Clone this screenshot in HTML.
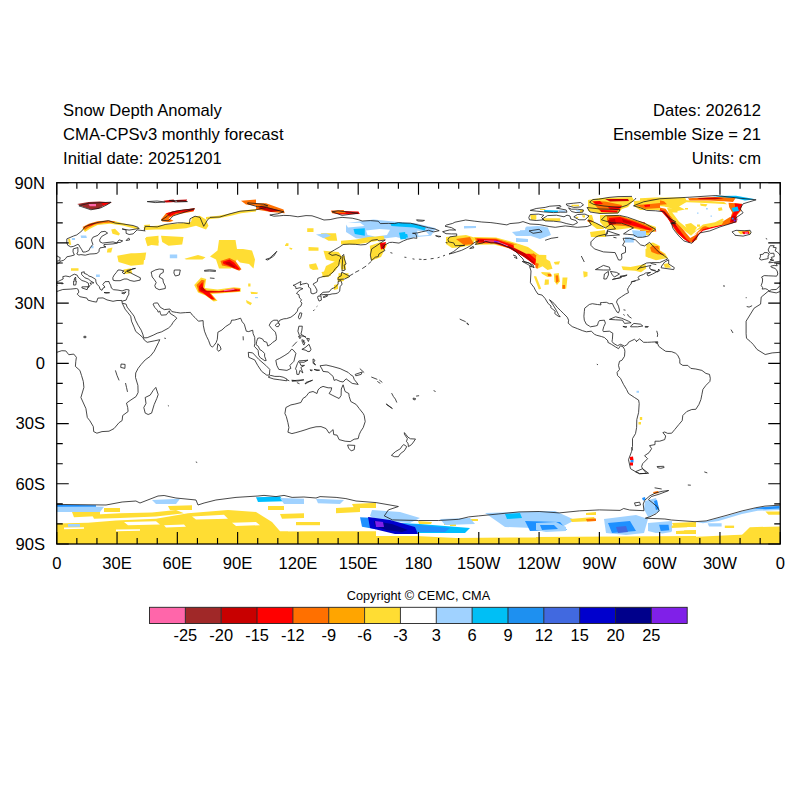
<!DOCTYPE html>
<html><head><meta charset="utf-8"><style>
html,body{margin:0;padding:0;background:#fff;width:800px;height:800px;overflow:hidden}
svg{display:block}
text{font-family:"Liberation Sans",sans-serif;fill:#000}
</style></head><body>
<svg width="800" height="800" viewBox="0 0 800 800">
<rect width="800" height="800" fill="#fff"/>
<g font-size="16.6">
<text x="63.1" y="116.3">Snow Depth Anomaly</text>
<text x="63.1" y="140.2">CMA-CPSv3 monthly forecast</text>
<text x="63.1" y="164.1">Initial date: 20251201</text>
<text x="761" y="116.3" text-anchor="end">Dates: 202612</text>
<text x="761" y="140.2" text-anchor="end">Ensemble Size = 21</text>
<text x="761" y="164.1" text-anchor="end">Units: cm</text>
</g>
<svg x="56.75" y="182.70" width="723.50" height="361.30" viewBox="0 0 723.50 361.30" overflow="hidden">
<g transform="translate(-56.75,-182.70)">
<path d="M56.0,523.6 88.0,522.8 116.0,520.4 156.0,518.8 188.0,513.2 228.0,510.0 256.0,512.0 272.0,522.0 280.0,531.2 376.0,531.2 376.0,545.2 56.0,545.2Z" fill="#FFDD33"/>
<path d="M64.0,527.6 84.0,527.2 84.0,528.8 64.0,529.2Z" fill="#FFFFFF"/>
<path d="M116.0,529.6 140.0,529.2 140.0,530.8 116.0,531.2Z" fill="#FFFFFF"/>
<path d="M288.0,526.8 376.0,526.0 376.0,530.4 288.0,531.2Z" fill="#FFFFFF"/>
<path d="M124.0,522.0 156.0,521.2 160.0,524.4 128.0,525.2Z" fill="#FFFFFF"/>
<path d="M192.0,516.4 224.0,514.8 228.0,518.8 196.0,519.6Z" fill="#FFFFFF"/>
<path d="M232.0,522.8 256.0,522.0 260.0,525.2 236.0,526.0Z" fill="#FFFFFF"/>
<path d="M164.0,525.2 184.0,524.4 186.0,526.8 166.0,527.6Z" fill="#FFFFFF"/>
<path d="M92.0,514.8 120.0,513.2 152.0,512.4 176.0,510.0 184.0,513.2 156.0,516.4 120.0,518.0 94.0,518.8Z" fill="#FFDD33"/>
<path d="M72.0,512.0 100.0,510.8 100.0,516.0 74.0,517.2Z" fill="#FFDD33"/>
<path d="M104.0,508.0 120.0,508.0 120.0,512.0 104.0,512.0Z" fill="#FFDD33"/>
<path d="M168.0,506.0 192.0,505.2 192.0,510.0 170.0,510.0Z" fill="#FFDD33"/>
<path d="M268.0,506.0 284.0,506.0 284.0,510.0 268.0,510.0Z" fill="#FFDD33"/>
<path d="M280.0,514.0 304.0,513.2 304.0,518.0 282.0,518.8Z" fill="#FFDD33"/>
<path d="M336.0,508.0 360.0,506.8 360.0,512.0 336.0,513.2Z" fill="#FFDD33"/>
<path d="M352.0,504.0 376.0,502.8 376.0,508.0 354.0,508.0Z" fill="#FFDD33"/>
<path d="M296.0,522.0 320.0,522.0 320.0,525.2 296.0,525.2Z" fill="#FFDD33"/>
<path d="M56.0,506.0 104.0,506.8 100.0,512.0 56.0,512.0Z" fill="#A0D2FF"/>
<path d="M152.0,500.0 180.0,498.8 176.0,504.0 156.0,504.0Z" fill="#A0D2FF"/>
<path d="M256.0,497.2 280.0,496.4 284.0,501.2 258.0,502.0Z" fill="#00BFFF"/>
<path d="M280.0,498.0 304.0,498.8 304.0,504.0 284.0,504.0Z" fill="#A0D2FF"/>
<path d="M316.0,498.8 344.0,500.0 340.0,504.0 318.0,503.2Z" fill="#A0D2FF"/>
<path d="M56.0,504.8 96.0,505.2 96.0,506.8 56.0,506.8Z" fill="#1E90FF"/>
<path d="M68.0,524.0 80.0,524.0 80.0,526.8 68.0,526.8Z" fill="#A0D2FF"/>
<path d="M360.0,517.2 376.0,518.0 376.0,529.2 362.0,526.8Z" fill="#1E90FF"/>
<path d="M370.0,522.8 376.0,522.0 376.0,527.6 371.2,526.8Z" fill="#00008B"/>
<path d="M376.0,536.0 416.0,536.0 456.0,538.0 536.0,537.4 536.0,545.0 376.0,545.0Z" fill="#FFDD33"/>
<path d="M418.0,521.0 432.0,522.0 431.0,524.0 419.0,524.0Z" fill="#FFDD33"/>
<path d="M444.0,523.0 456.0,522.6 456.0,525.0 444.0,525.0Z" fill="#FFDD33"/>
<path d="M372.0,510.0 400.0,512.0 420.0,518.0 410.0,523.0 380.0,521.0 370.0,516.0Z" fill="#A0D2FF"/>
<path d="M380.0,522.0 420.0,524.0 470.0,528.0 465.0,533.0 420.0,533.0 385.0,530.0Z" fill="#00BFFF"/>
<path d="M375.0,520.0 410.0,524.0 450.0,528.0 445.0,532.0 405.0,532.0 378.0,527.0Z" fill="#1E90FF"/>
<path d="M368.0,517.0 390.0,520.0 415.0,527.0 418.0,534.0 395.0,534.0 370.0,528.0Z" fill="#0000CD"/>
<path d="M374.0,521.0 392.0,524.0 408.0,530.0 402.0,532.0 386.0,530.0 375.0,526.0Z" fill="#00008B"/>
<path d="M375.0,521.0 383.0,522.0 384.0,527.0 376.0,527.0Z" fill="#8020E8"/>
<path d="M485.0,513.0 555.0,511.0 575.0,520.0 558.0,529.0 505.0,527.0Z" fill="#A0D2FF"/>
<path d="M525.0,521.0 560.0,522.0 567.0,530.0 530.0,531.0Z" fill="#1E90FF"/>
<path d="M450.0,523.0 456.0,523.0 456.0,526.0 450.0,526.0Z" fill="#FFDD33"/>
<path d="M470.0,519.0 478.0,519.0 478.0,521.0 470.0,521.0Z" fill="#FFDD33"/>
<path d="M440.0,519.0 470.0,518.0 475.0,524.0 445.0,525.0Z" fill="#A0D2FF"/>
<path d="M505.0,514.0 520.0,513.0 522.0,518.0 507.0,519.0Z" fill="#00BFFF"/>
<path d="M536.0,537.0 696.0,536.0 696.0,545.0 536.0,545.0Z" fill="#FFDD33"/>
<path d="M536.0,523.0 556.0,522.0 566.0,527.0 566.0,531.0 546.0,532.0 536.0,530.0Z" fill="#A0D2FF"/>
<path d="M540.0,525.0 554.0,525.0 558.0,529.0 542.0,530.0Z" fill="#1E90FF"/>
<path d="M604.0,519.0 636.0,515.0 648.0,519.0 644.0,533.0 626.0,535.0 606.0,533.0Z" fill="#A0D2FF"/>
<path d="M608.0,523.0 630.0,521.0 636.0,531.0 612.0,533.0Z" fill="#1E90FF"/>
<path d="M616.0,527.0 626.0,526.0 628.0,532.0 618.0,533.0Z" fill="#4169E0"/>
<path d="M648.0,523.0 672.0,521.0 672.0,531.0 656.0,533.0 648.0,531.0Z" fill="#A0D2FF"/>
<path d="M645.0,501.0 656.0,498.0 660.0,511.0 648.0,517.0 644.0,509.0Z" fill="#A0D2FF"/>
<path d="M654.0,501.0 657.0,500.0 659.0,509.0 656.0,510.0Z" fill="#1E90FF"/>
<path d="M570.0,519.0 594.0,517.0 596.0,521.0 572.0,522.0Z" fill="#FFDD33"/>
<path d="M586.0,519.0 596.0,518.6 596.0,521.0 587.0,521.4Z" fill="#FF7000"/>
<path d="M586.0,513.0 596.0,512.0 596.0,515.0 586.0,515.0Z" fill="#FFDD33"/>
<path d="M672.0,523.0 696.0,522.0 696.0,527.0 674.0,527.0Z" fill="#FFDD33"/>
<path d="M676.0,531.0 696.0,530.0 696.0,534.0 676.0,534.0Z" fill="#FFDD33"/>
<path d="M653.0,492.0 658.0,491.0 659.0,493.0 654.0,494.0Z" fill="#FF7000"/>
<path d="M642.0,498.0 645.0,497.0 645.6,500.0 643.0,500.6Z" fill="#1E90FF"/>
<path d="M656.0,538.1 702.9,536.6 734.1,535.0 781.0,533.4 781.0,545.0 656.0,545.0Z" fill="#FFDD33"/>
<path d="M695.1,521.7 706.0,521.2 726.3,516.2 741.9,511.6 757.6,507.7 781.0,505.3 781.0,510.0 757.6,510.8 741.9,513.9 718.5,520.9 702.9,523.3Z" fill="#A0D2FF"/>
<path d="M752.9,508.4 765.4,506.9 779.4,506.1 779.4,508.4 765.4,509.2Z" fill="#1E90FF"/>
<path d="M656.0,524.1 670.1,522.5 671.6,531.9 662.2,533.4 656.0,531.9Z" fill="#A0D2FF"/>
<path d="M659.1,524.8 668.5,524.8 669.3,530.3 660.7,531.1Z" fill="#1E90FF"/>
<path d="M707.6,523.3 721.6,523.3 721.6,526.4 709.1,526.4Z" fill="#A0D2FF"/>
<path d="M671.6,525.6 687.2,524.8 687.2,527.2 671.6,528.0Z" fill="#FFDD33"/>
<path d="M684.1,530.3 695.1,530.3 695.1,533.4 684.1,533.4Z" fill="#FFDD33"/>
<path d="M724.8,525.6 734.1,525.6 734.1,528.0 724.8,528.0Z" fill="#FFDD33"/>
<path d="M749.8,527.2 781.0,526.4 781.0,536.6 741.9,535.0Z" fill="#FFDD33"/>
<path d="M765.4,511.6 781.0,511.6 781.0,514.7 768.5,514.7Z" fill="#FFDD33"/>
<path d="M640.0,198.2 655.0,197.5 685.0,197.5 686.5,200.5 677.5,202.7 677.5,208.0 670.0,208.0 664.0,206.5 655.0,205.7 646.0,208.0 640.0,208.0Z" fill="#FFDD33"/>
<path d="M643.0,200.5 653.5,199.0 664.0,201.2 667.0,204.2 658.0,205.0 649.0,206.5 643.0,205.0Z" fill="#FF7000"/>
<path d="M640.0,206.5 644.5,205.7 646.0,208.7 640.0,209.5Z" fill="#C80000"/>
<path d="M670.0,203.5 677.5,204.2 676.7,206.5 670.7,205.7Z" fill="#FFDD33"/>
<path d="M655.7,206.8 665.5,208.7 673.3,219.2 680.5,226.0 685.7,232.7 690.2,238.0 695.5,235.0 698.5,232.0 697.0,239.5 691.7,242.8 683.5,238.7 676.7,232.7 671.5,224.5 664.7,212.5 656.5,209.5Z" fill="#FF7000"/>
<path d="M667.0,208.0 677.5,208.7 677.5,212.5 672.2,212.5 679.0,221.5 686.5,227.5 692.5,231.2 697.0,230.2 691.0,235.7 684.2,230.5 677.5,223.7 670.0,215.5Z" fill="#FFDD33"/>
<path d="M658.7,208.7 664.7,211.0 671.8,220.0 677.2,226.7 681.7,232.7 686.5,238.7 690.7,242.2 689.2,242.8 684.2,239.2 678.2,233.5 673.3,226.7 667.7,218.5 661.0,211.0Z" fill="#FF0000"/>
<path d="M664.7,212.2 669.2,216.2 674.8,223.7 677.5,227.5 674.5,226.0 669.2,220.0 665.5,214.7Z" fill="#C80000"/>
<path d="M695.5,230.5 703.0,224.5 715.0,222.2 722.5,218.5 724.0,220.0 715.0,224.5 703.0,228.2Z" fill="#FFDD33"/>
<path d="M694.0,235.0 703.0,226.7 715.0,223.7 724.0,220.7 730.0,217.0 733.0,217.7 725.5,223.7 712.0,226.7 700.0,231.2Z" fill="#FF7000"/>
<path d="M691.7,241.0 697.0,235.0 703.0,229.3 712.0,226.7 724.0,223.7 736.0,219.2 736.7,222.2 724.0,225.2 712.0,228.2 703.0,230.8 698.5,235.0 693.2,242.5Z" fill="#FF0000"/>
<path d="M728.5,202.7 742.0,203.8 740.8,211.0 736.7,215.5 736.3,220.7 724.0,225.5 720.2,224.2 730.0,219.2 732.2,212.5 729.2,207.2Z" fill="#FF7000"/>
<path d="M734.5,203.2 742.3,204.2 740.2,210.2 736.7,214.7 735.7,220.7 729.7,222.7 731.2,217.3 734.2,211.0 735.2,206.5Z" fill="#FF0000"/>
<path d="M731.2,216.7 735.4,215.8 736.0,220.9 731.8,221.8Z" fill="#C80000"/>
<path d="M731.8,217.7 733.6,217.7 733.6,219.4 731.8,219.4Z" fill="#1E90FF"/>
<path d="M733.7,219.7 736.0,219.7 736.0,221.5 733.7,221.5Z" fill="#8020E8"/>
<path d="M736.0,218.5 737.8,218.5 737.8,220.3 736.0,220.3Z" fill="#FF66AA"/>
<path d="M731.5,208.0 737.5,206.5 739.0,211.0 733.0,211.7Z" fill="#00BFFF"/>
<path d="M677.5,199.0 689.5,200.5 707.5,200.8 724.0,202.0 727.0,204.2 715.0,203.5 700.0,202.7 682.0,202.0Z" fill="#FFDD33"/>
<path d="M688.0,198.2 707.5,197.2 724.0,196.7 736.0,197.5 733.0,202.0 724.0,201.2 707.5,200.5 689.5,200.5Z" fill="#FF7000"/>
<path d="M697.0,198.2 715.0,197.5 724.0,198.2 715.0,199.3 700.0,199.3Z" fill="#C80000"/>
<path d="M712.0,196.0 736.0,195.7 755.5,199.3 745.0,200.5 736.0,198.2 722.5,197.2Z" fill="#00BFFF"/>
<path d="M697.0,224.5 700.0,224.5 700.0,226.7 697.0,226.7Z" fill="#FFDD33"/>
<path d="M703.0,204.2 706.0,204.2 706.0,205.7 703.0,205.7Z" fill="#FFDD33"/>
<path d="M685.0,208.0 688.0,208.0 688.0,209.5 685.0,209.5Z" fill="#FFDD33"/>
<path d="M737.5,231.2 749.5,230.5 751.0,233.5 740.5,234.2Z" fill="#FFDD33"/>
<path d="M742.0,231.7 748.7,231.2 749.5,233.8 743.5,234.2Z" fill="#FF0000"/>
<path d="M744.7,232.3 748.0,232.3 748.0,233.8 745.0,233.9Z" fill="#FF66AA"/>
<path d="M640.0,221.5 644.5,222.2 649.0,226.7 655.0,229.0 656.5,231.2 652.0,232.0 646.0,229.0 640.0,227.5Z" fill="#FF0000"/>
<path d="M640.0,226.7 646.0,229.0 652.0,232.0 646.0,233.5 640.0,232.7Z" fill="#FF7000"/>
<path d="M643.0,232.0 649.0,232.7 650.5,235.0 644.5,235.0Z" fill="#FFDD33"/>
<path d="M650.5,245.5 654.2,244.0 656.5,250.0 651.2,250.0Z" fill="#FF7000"/>
<path d="M525.3,227.6 537.5,225.9 548.0,227.6 548.0,235.5 537.5,235.9 525.3,233.8Z" fill="#A0D2FF"/>
<path d="M520.0,230.3 525.3,230.3 525.3,233.8 520.0,233.8Z" fill="#A0D2FF"/>
<path d="M632.0,230.3 646.0,231.1 646.0,237.3 633.8,236.9Z" fill="#A0D2FF"/>
<path d="M625.0,237.3 633.8,237.6 633.8,242.5 625.0,242.5Z" fill="#A0D2FF"/>
<path d="M646.0,244.3 653.0,242.5 660.0,246.0 660.0,258.3 647.8,257.4Z" fill="#FFDD33"/>
<path d="M651.3,246.0 658.3,246.0 660.0,252.1 653.0,252.1Z" fill="#FF7000"/>
<path d="M535.8,254.8 546.3,255.1 546.3,260.0 535.8,260.0Z" fill="#FFDD33"/>
<path d="M446.0,237.0 466.0,235.0 476.0,238.0 472.0,245.0 462.0,247.0 452.0,248.0 446.0,244.0Z" fill="#FFDD33"/>
<path d="M456.0,239.0 470.0,237.0 474.0,244.0 464.0,245.0Z" fill="#FF7000"/>
<path d="M474.0,237.0 496.0,237.6 514.0,242.4 528.0,247.0 540.0,255.6 545.0,265.0 538.0,267.2 527.0,258.4 511.0,248.8 494.0,244.4 476.0,244.8Z" fill="#FFDD33"/>
<path d="M475.0,238.0 496.0,238.4 513.0,243.6 527.0,248.4 538.4,257.0 542.4,265.0 537.0,266.0 527.6,258.4 511.6,248.4 494.0,243.6 477.0,243.6Z" fill="#FF7000"/>
<path d="M477.0,238.8 496.0,239.6 511.6,244.8 525.6,250.4 536.0,259.6 538.4,264.8 534.4,265.0 525.2,257.2 509.6,248.4 493.6,242.8 478.4,242.4Z" fill="#FF0000"/>
<path d="M480.0,240.0 496.0,241.0 510.0,246.4 524.0,252.8 534.4,262.6 533.2,263.4 522.4,256.0 508.0,247.6 493.6,242.0 480.4,241.4Z" fill="#C80000"/>
<path d="M484.0,240.2 496.0,240.8 508.0,245.6 507.6,246.4 496.0,241.8 484.0,241.2Z" fill="#FF66AA"/>
<path d="M494.0,240.8 499.6,241.4 499.6,242.6 494.0,242.2Z" fill="#8020E8"/>
<path d="M464.0,226.0 476.0,226.0 476.0,228.0 464.0,228.4Z" fill="#A0D2FF"/>
<path d="M512.0,232.0 528.0,230.0 530.0,236.0 516.0,236.0Z" fill="#A0D2FF"/>
<path d="M528.0,228.0 548.0,228.0 551.0,235.0 540.0,239.0 528.0,235.0Z" fill="#A0D2FF"/>
<path d="M516.0,238.0 528.0,239.0 528.0,242.0 516.0,242.0Z" fill="#A0D2FF"/>
<path d="M256.0,203.2 266.0,203.2 283.5,209.5 284.8,213.2 271.0,212.0 256.0,209.5Z" fill="#FF7000"/>
<path d="M261.0,205.8 281.0,210.8 271.0,212.0 258.5,208.2Z" fill="#C80000"/>
<path d="M331.0,210.8 358.5,211.5 359.8,214.0 341.0,214.5 333.5,213.2Z" fill="#FF0000"/>
<path d="M331.0,210.8 343.5,210.0 346.0,213.2 332.2,213.2Z" fill="#FF7000"/>
<path d="M307.2,228.2 313.5,228.2 313.5,232.0 307.2,232.0Z" fill="#FFDD33"/>
<path d="M321.0,233.2 336.0,233.2 337.2,240.8 328.5,240.8 322.2,237.0Z" fill="#FFDD33"/>
<path d="M308.5,247.0 318.5,247.5 318.5,250.8 308.5,250.8Z" fill="#FFDD33"/>
<path d="M286.0,243.2 288.5,243.2 288.5,245.8 286.0,245.8Z" fill="#FFDD33"/>
<path d="M323.5,250.8 338.5,252.0 342.2,257.0 336.0,262.0 326.0,259.5Z" fill="#FFDD33"/>
<path d="M309.0,264.5 316.0,263.2 318.5,269.5 313.0,270.0 309.8,268.2Z" fill="#FFDD33"/>
<path d="M321.5,272.0 328.5,270.8 331.0,275.8 323.5,277.5Z" fill="#FFDD33"/>
<path d="M346.0,223.2 373.5,219.5 398.5,222.0 416.0,223.2 436.0,228.2 431.0,235.8 416.0,237.0 406.0,239.5 396.0,237.0 386.0,238.2 371.0,239.5 356.0,238.2 346.0,232.0Z" fill="#A0D2FF"/>
<path d="M353.5,229.0 364.8,228.2 364.8,235.8 354.8,234.0Z" fill="#00BFFF"/>
<path d="M402.2,234.0 407.2,234.0 408.0,237.5 404.0,237.5Z" fill="#00BFFF"/>
<path d="M316.0,234.5 326.0,233.2 331.0,235.8 323.5,238.2Z" fill="#A0D2FF"/>
<path d="M341.0,240.8 356.0,239.5 368.5,237.0 383.5,235.8 384.8,239.5 371.0,242.0 356.0,244.5 341.0,244.5Z" fill="#FFDD33"/>
<path d="M369.8,245.8 381.0,242.0 387.2,244.5 381.0,257.0 371.0,260.8Z" fill="#FFDD33"/>
<path d="M379.8,243.2 386.0,242.0 384.8,248.2 381.0,249.5Z" fill="#FF0000"/>
<path d="M381.0,244.5 384.8,244.0 384.0,247.5 381.8,248.2Z" fill="#C80000"/>
<path d="M339.8,257.0 344.8,255.8 346.0,269.5 341.0,269.5Z" fill="#FFDD33"/>
<path d="M338.5,273.2 348.5,273.2 348.5,278.2 338.5,278.2Z" fill="#FFDD33"/>
<path d="M77.2,204.0 88.5,202.0 99.8,201.5 112.2,202.5 103.5,205.8 98.5,209.0 91.0,209.5 83.5,207.0Z" fill="#A02828"/>
<path d="M101.0,202.5 111.0,202.5 103.5,205.8Z" fill="#FF0000"/>
<path d="M88.5,204.0 96.0,204.0 96.0,206.2 89.8,206.2Z" fill="#FF66AA"/>
<path d="M163.5,200.8 173.5,199.5 176.0,202.0 166.0,202.5Z" fill="#C80000"/>
<path d="M176.0,200.0 187.2,199.5 186.0,201.5 177.2,202.0Z" fill="#C80000"/>
<path d="M161.0,219.5 166.0,213.2 176.0,210.8 194.8,208.2 193.5,211.5 176.0,214.5 168.5,218.2 173.5,220.8 169.8,222.0 162.2,221.5Z" fill="#FF7000"/>
<path d="M166.0,213.2 176.0,210.8 194.8,208.2 193.5,210.8 176.0,213.2 169.8,216.5Z" fill="#FF0000"/>
<path d="M91.0,245.8 93.5,245.8 93.5,248.2 91.0,248.2Z" fill="#A0D2FF"/>
<path d="M143.5,227.0 156.0,225.8 168.5,224.5 181.0,223.2 191.0,222.0 192.2,217.0 199.8,215.8 206.0,219.5 208.5,225.8 206.0,229.5 196.0,225.8 186.0,228.2 171.0,229.5 156.0,229.5 144.8,230.0Z" fill="#FFDD33"/>
<path d="M206.0,217.0 218.5,215.8 231.0,213.2 241.0,210.8 256.0,209.0 256.0,211.5 241.0,213.2 231.0,215.8 218.5,218.2 206.0,219.5Z" fill="#FFDD33"/>
<path d="M241.0,200.8 256.0,199.5 256.0,205.8 246.0,204.5Z" fill="#FF7000"/>
<path d="M146.0,237.0 158.5,235.8 158.5,245.8 147.2,244.5Z" fill="#FFDD33"/>
<path d="M161.0,235.8 183.5,237.0 182.2,244.5 168.5,245.8 162.2,242.0Z" fill="#FFDD33"/>
<path d="M71.0,268.2 78.5,268.2 78.5,270.8 71.0,270.8Z" fill="#FFDD33"/>
<path d="M117.2,255.8 131.0,253.2 144.8,253.2 143.5,264.5 131.0,265.8 118.5,262.0Z" fill="#FFDD33"/>
<path d="M123.5,269.5 131.0,268.2 132.2,273.2 124.8,274.0Z" fill="#FFDD33"/>
<path d="M96.0,274.5 99.8,274.5 99.8,277.0 96.0,277.0Z" fill="#A0D2FF"/>
<path d="M169.8,254.5 177.2,254.5 177.2,258.2 169.8,258.2Z" fill="#A0D2FF"/>
<path d="M513.8,244.4 521.2,245.0 533.8,251.9 533.1,253.8 526.2,253.8 518.8,250.0 513.8,247.5Z" fill="#FFDD33"/>
<path d="M536.2,255.6 542.5,256.9 550.0,261.2 552.5,268.8 547.5,270.0 542.5,266.2 537.5,268.8 535.6,263.8Z" fill="#FFDD33"/>
<path d="M541.2,271.9 550.0,272.5 552.5,276.2 547.5,276.9 541.9,273.8Z" fill="#FFDD33"/>
<path d="M547.5,273.8 551.2,274.0 551.2,276.5 548.1,276.2Z" fill="#FF7000"/>
<path d="M553.8,273.8 558.8,273.1 560.0,281.2 556.9,285.0 554.4,281.2Z" fill="#FFDD33"/>
<path d="M555.6,275.6 558.1,275.2 558.8,281.2 556.2,283.1Z" fill="#FF7000"/>
<path d="M562.5,277.5 567.5,277.5 566.2,288.8 561.9,288.8Z" fill="#FFDD33"/>
<path d="M562.5,285.0 565.0,285.0 565.0,288.8 562.5,288.8Z" fill="#FF7000"/>
<path d="M533.8,276.2 536.2,276.2 541.2,288.8 538.8,289.4Z" fill="#FFDD33"/>
<path d="M545.0,279.4 548.8,279.4 548.8,284.4 544.4,285.0Z" fill="#FFDD33"/>
<path d="M553.8,261.9 560.0,261.2 558.8,264.4 555.0,264.4Z" fill="#FFDD33"/>
<path d="M583.1,271.2 587.5,271.9 587.5,276.2 583.8,277.5Z" fill="#FFDD33"/>
<path d="M535.0,262.5 538.8,263.8 537.5,268.8 535.6,268.1Z" fill="#FF7000"/>
<path d="M621.5,266.2 630.5,267.0 638.0,265.5 645.5,264.0 646.2,268.5 641.0,272.2 635.0,270.7 623.0,270.0Z" fill="#FFDD33"/>
<path d="M645.5,249.0 653.0,246.0 665.0,253.5 668.0,258.0 656.0,260.2 645.5,256.5Z" fill="#FFDD33"/>
<path d="M650.0,247.5 653.7,245.2 659.0,250.5 665.0,255.0 657.5,254.2 651.5,252.0Z" fill="#FF7000"/>
<path d="M663.5,264.0 668.0,263.2 671.0,267.7 665.0,267.7Z" fill="#FFDD33"/>
<path d="M629.8,457.0 633.0,456.5 633.5,460.0 630.0,460.0Z" fill="#FF0000"/>
<path d="M630.5,460.0 633.5,460.0 633.5,462.5 630.5,462.5Z" fill="#1E90FF"/>
<path d="M630.0,462.5 633.0,462.5 633.0,465.5 630.0,465.5Z" fill="#FF0000"/>
<path d="M639.8,417.0 642.2,417.0 642.2,420.0 639.8,420.0Z" fill="#FFDD33"/>
<path d="M638.5,422.0 641.0,422.0 641.0,424.5 638.5,424.5Z" fill="#FFDD33"/>
<path d="M636.5,390.8 639.0,390.8 639.0,392.8 636.5,392.8Z" fill="#A0D2FF"/>
<path d="M540.0,208.9 545.3,208.9 545.3,210.0 540.0,210.0Z" fill="#FFDD33"/>
<path d="M543.8,210.0 558.0,210.4 558.0,212.3 544.5,211.9Z" fill="#00BFFF"/>
<path d="M558.0,210.0 565.5,210.4 565.5,212.3 558.8,212.1Z" fill="#A0D2FF"/>
<path d="M571.5,204.8 579.0,204.8 579.0,206.3 571.5,206.3Z" fill="#FFDD33"/>
<path d="M576.0,210.0 582.0,210.4 582.0,211.9 576.8,211.5Z" fill="#A0D2FF"/>
<path d="M530.3,214.9 536.3,214.9 536.3,219.8 531.0,219.8Z" fill="#FFDD33"/>
<path d="M543.0,218.3 560.3,218.3 560.3,220.9 543.8,220.9Z" fill="#FFDD33"/>
<path d="M576.0,216.8 578.3,216.8 578.3,218.3 576.0,218.3Z" fill="#FFDD33"/>
<path d="M582.0,215.3 585.0,215.3 585.0,217.5 582.8,217.5Z" fill="#FFDD33"/>
<path d="M526.5,226.5 543.8,226.5 549.8,232.5 549.8,235.0 525.0,235.0 525.0,230.3Z" fill="#A0D2FF"/>
<path d="M588.0,200.0 600.0,198.0 632.0,197.0 634.0,200.0 628.0,207.0 622.0,209.0 618.0,213.5 600.0,213.5 588.0,211.0Z" fill="#FFDD33"/>
<path d="M592.0,201.0 605.0,201.5 622.0,205.0 620.0,210.0 600.0,211.0 595.0,205.0Z" fill="#FF7000"/>
<path d="M593.0,201.5 600.0,201.0 603.0,204.0 596.0,204.5Z" fill="#FF0000"/>
<path d="M605.0,199.0 628.0,199.0 629.0,201.0 610.0,201.5Z" fill="#C80000"/>
<path d="M608.0,207.0 622.0,206.0 618.0,210.0 610.0,209.5Z" fill="#FF0000"/>
<path d="M600.0,210.0 618.0,210.5 617.0,212.5 601.0,212.0Z" fill="#FF0000"/>
<path d="M634.0,201.0 660.0,199.0 660.0,210.0 640.0,210.0 634.0,206.0Z" fill="#FFDD33"/>
<path d="M636.0,205.0 650.0,204.0 660.0,203.0 660.0,208.0 645.0,209.0Z" fill="#FF7000"/>
<path d="M644.0,205.0 650.0,204.5 650.0,206.5 645.0,207.0Z" fill="#FF0000"/>
<path d="M600.0,215.0 618.0,215.0 636.0,220.0 656.0,227.0 655.0,232.0 640.0,230.0 630.0,228.0 615.0,230.0 606.0,229.0 600.0,222.0Z" fill="#FFDD33"/>
<path d="M607.0,216.0 620.0,216.0 636.0,221.0 654.0,228.0 652.0,231.0 640.0,229.0 625.0,226.0 610.0,225.0 607.0,221.0Z" fill="#FF7000"/>
<path d="M609.0,218.0 620.0,217.0 635.0,222.0 652.0,229.0 650.0,230.5 638.0,227.0 622.0,223.0 610.0,224.0Z" fill="#FF0000"/>
<path d="M608.0,220.0 615.0,219.0 616.0,224.0 609.0,225.0Z" fill="#C80000"/>
<path d="M622.0,219.0 632.0,222.0 630.0,224.0 623.0,222.0Z" fill="#C80000"/>
<path d="M588.0,215.0 592.0,215.0 594.0,222.0 603.0,226.0 604.0,229.0 597.0,229.0 589.0,223.0Z" fill="#FFDD33"/>
<path d="M587.0,220.0 592.0,220.5 593.0,222.0 588.0,222.0Z" fill="#FF7000"/>
<path d="M590.0,232.0 605.0,230.0 606.0,237.0 591.0,237.0Z" fill="#FFDD33"/>
<path d="M633.0,232.0 640.0,232.0 642.0,237.0 635.0,237.0Z" fill="#A0D2FF"/>
<path d="M580.0,210.0 583.0,209.5 583.0,212.0 580.0,212.5Z" fill="#FFDD33"/>
<path d="M82.5,228.8 88.8,224.4 101.2,221.9 115.0,221.2 125.0,223.8 135.0,226.2 140.0,228.8 135.0,228.8 122.5,225.6 110.0,223.8 97.5,225.0 90.0,228.8 85.0,231.9Z" fill="#FFDD33"/>
<path d="M82.5,226.9 88.8,223.8 97.5,221.2 107.5,220.6 115.0,221.2 113.8,222.5 103.8,223.1 95.0,224.4 88.8,227.5 85.0,230.0Z" fill="#FF7000"/>
<path d="M86.2,226.2 92.5,223.8 97.5,222.5 91.2,225.6Z" fill="#FF0000"/>
<path d="M111.2,229.4 115.0,228.8 120.0,233.8 118.8,235.6 112.5,233.8Z" fill="#FFDD33"/>
<path d="M68.1,238.8 70.0,238.8 71.2,245.0 68.8,244.4Z" fill="#FFDD33"/>
<path d="M80.6,235.6 86.2,235.6 86.9,238.1 81.2,238.1Z" fill="#A0D2FF"/>
<path d="M71.9,238.1 75.0,238.1 75.0,240.0 71.9,240.0Z" fill="#A0D2FF"/>
<path d="M107.5,248.8 112.5,247.5 111.2,252.5 106.9,252.5Z" fill="#FFDD33"/>
<path d="M145.0,238.1 157.5,236.9 158.8,242.5 147.5,246.2 146.2,242.5Z" fill="#FFDD33"/>
<path d="M120.0,257.5 127.5,255.6 140.0,253.1 146.2,252.5 145.0,260.0 120.0,260.0Z" fill="#FFDD33"/>
<path d="M143.8,225.0 150.0,224.4 150.0,227.5 145.0,227.5Z" fill="#FFDD33"/>
<path d="M219.0,240.0 235.5,240.0 237.0,249.0 243.0,249.0 252.0,250.5 255.0,259.5 253.5,268.5 249.0,264.0 240.0,262.5 237.0,259.5 231.0,268.5 219.0,268.5 216.0,259.5 210.0,256.5 217.5,250.5Z" fill="#FFDD33"/>
<path d="M184.5,258.7 198.0,255.0 205.5,257.2 202.5,259.5 186.0,259.5Z" fill="#FFDD33"/>
<path d="M220.5,261.0 229.5,258.0 235.5,261.0 241.5,269.2 239.2,270.7 229.5,267.0 222.0,265.5Z" fill="#FF7000"/>
<path d="M222.7,261.7 229.5,259.5 234.0,262.5 240.0,269.2 237.7,269.7 228.0,265.5 223.5,264.0Z" fill="#FF0000"/>
<path d="M225.0,262.5 229.5,261.7 235.5,267.0 234.0,267.7 226.5,264.0Z" fill="#C80000"/>
<path d="M194.2,285.0 201.0,277.5 206.2,279.0 204.7,288.0 217.5,289.5 234.0,287.2 240.7,288.0 240.7,291.7 222.0,293.2 211.5,294.0 217.5,300.7 213.7,301.5 205.5,295.5 198.0,292.5Z" fill="#FFDD33"/>
<path d="M196.5,285.0 201.7,279.7 204.7,280.5 203.2,288.0 207.0,290.2 219.0,291.0 234.0,288.3 240.0,288.7 240.0,291.3 220.5,292.5 210.0,292.8 216.0,300.0 213.0,300.3 204.0,294.0 198.7,291.7Z" fill="#FF7000"/>
<path d="M198.7,286.5 202.5,282.0 203.2,288.0 207.0,291.3 220.5,291.3 234.0,289.2 239.7,289.5 239.7,291.0 220.5,292.2 209.2,292.5 214.5,299.2 211.5,299.2 202.5,292.5 199.5,291.0Z" fill="#FF0000"/>
<path d="M200.2,288.0 202.5,286.5 205.5,291.0 219.0,291.7 229.5,290.2 237.0,289.8 237.0,290.7 220.5,291.9 207.0,292.2 201.0,290.2Z" fill="#C80000"/>
<path d="M223.5,290.2 234.0,288.3 234.7,289.8 224.2,291.3Z" fill="#FF66AA"/>
<path d="M246.0,300.0 252.0,303.0 250.5,305.2 246.7,303.0Z" fill="#FFDD33"/>
<path d="M248.2,283.5 250.5,283.5 250.5,286.5 248.2,286.5Z" fill="#FFDD33"/>
<path d="M250.5,291.7 258.0,292.5 257.2,294.0 251.2,294.0Z" fill="#FFDD33"/>
<path d="M285.0,244.5 288.0,244.5 288.0,246.0 285.0,246.0Z" fill="#FFDD33"/>
<path d="M289.5,247.5 292.5,248.2 291.7,249.7 289.5,249.0Z" fill="#FFDD33"/>
<path d="M255.0,297.0 258.0,297.0 258.0,298.2 255.0,298.2Z" fill="#A0D2FF"/>
<path d="M334.0,285.0 338.0,284.0 338.0,289.0 334.0,290.0Z" fill="#FFDD33"/>
<path d="M326.0,266.0 334.0,262.0 340.0,257.0 341.0,262.0 336.0,270.0 328.0,277.0 322.0,277.0Z" fill="#FFDD33"/>
<path d="M337.0,277.0 343.0,276.0 344.0,281.0 338.0,282.0Z" fill="#FFDD33"/>
<path d="M670.0,199.0 685.0,198.2 686.5,202.0 679.0,206.5 685.0,209.5 677.5,211.0 670.0,208.0Z" fill="#FFDD33"/>
<path d="M685.0,224.5 691.0,223.0 697.0,227.5 694.0,232.0 688.0,232.0Z" fill="#FFDD33"/>
<path d="M704.5,225.7 715.0,223.3 724.0,220.7 721.7,224.8 709.0,227.5Z" fill="#FFDD33"/>
<path d="M700.0,203.5 707.5,204.2 706.0,206.5 700.7,205.7Z" fill="#FFDD33"/>
<path d="M718.0,208.0 721.7,207.2 722.5,210.2 718.7,211.0Z" fill="#FFDD33"/>
<path d="M706.0,208.0 707.8,208.0 707.8,209.5 706.0,209.5Z" fill="#A0D2FF"/>
<path d="M710.5,215.5 712.0,215.5 712.0,216.7 710.5,216.7Z" fill="#A0D2FF"/>
<path d="M697.0,212.5 698.5,212.5 698.5,213.7 697.0,213.7Z" fill="#A0D2FF"/>
<path d="M366.0,230.5 379.5,229.0 390.0,229.7 387.0,235.0 375.0,236.5 367.5,235.0Z" fill="#FFFFFF"/>
<path d="M417.0,230.8 426.0,231.4 429.0,235.0 418.5,235.7Z" fill="#FFFFFF"/>
<path d="M345.0,223.0 360.0,222.7 364.5,226.0 348.0,227.5Z" fill="#FFFFFF"/>
<path d="M390.0,223.0 402.0,222.7 414.0,223.7 426.0,227.5 424.5,230.5 414.0,227.5 402.0,226.7 391.5,226.0Z" fill="#00BFFF"/>
<path d="M399.0,232.7 405.0,232.0 406.5,238.7 400.5,239.5Z" fill="#00BFFF"/><path d="M44.7,291.3 37.7,297.1 37.1,304.1 30.6,308.2 22.6,321.2 22.6,333.8 23.0,338.3 26.6,341.3 29.6,344.3 33.6,349.5 41.7,354.5 48.7,352.9 56.8,352.3 61.8,350.7 65.8,350.9 68.8,354.7 73.8,354.1 76.4,357.3 75.8,361.3 75.4,366.4 79.9,370.4 81.5,375.4 83.3,381.4 83.9,387.4 80.9,397.5 85.9,408.5 87.3,417.5 89.9,420.8 93.3,426.6 93.7,431.6 96.9,433.2 102.0,431.6 109.0,431.2 114.0,428.6 119.1,422.6 122.1,420.6 122.7,415.5 128.1,411.5 127.7,407.5 126.5,403.1 130.1,400.5 136.1,396.5 138.1,392.5 137.9,385.4 135.5,377.4 135.7,373.0 138.1,368.4 141.2,364.4 145.2,359.9 150.2,356.3 154.2,351.3 158.6,342.3 159.8,339.7 154.2,340.9 147.2,342.3 144.2,339.9 142.8,337.5 139.1,334.2 135.7,331.4 134.1,327.2 131.5,321.2 130.7,316.2 127.5,312.2 125.1,309.2 122.3,303.3 121.7,300.5 117.0,300.5 113.0,301.3 107.0,299.9 103.0,297.9 97.9,298.1 96.5,302.1 92.9,301.5 87.9,300.1 86.9,298.1 79.9,296.7 77.2,294.1 78.9,292.1 77.9,289.1 76.4,288.5 70.8,289.1 62.8,289.5 56.8,291.5 52.7,292.9 44.7,291.3 M768.2,291.3 761.2,297.1 760.6,304.1 754.1,308.2 746.1,321.2 746.1,333.8 746.5,338.3 750.1,341.3 753.1,344.3 757.1,349.5 765.2,354.5 772.2,352.9 780.2,352.3 785.3,350.7 789.3,350.9 792.3,354.7 797.3,354.1 799.9,357.3 799.3,361.3 798.9,366.4 803.4,370.4 805.0,375.4 806.8,381.4 807.4,387.4 804.4,397.5 809.4,408.5 810.8,417.5 813.4,420.8 816.8,426.6 817.2,431.6 820.4,433.2 825.5,431.6 832.5,431.2 837.5,428.6 842.6,422.6 845.6,420.6 846.2,415.5 851.6,411.5 851.2,407.5 850.0,403.1 853.6,400.5 859.6,396.5 861.6,392.5 861.4,385.4 859.0,377.4 859.2,373.0 861.6,368.4 864.7,364.4 868.7,359.9 873.7,356.3 877.7,351.3 882.1,342.3 883.3,339.7 877.7,340.9 870.7,342.3 867.7,339.9 866.3,337.5 862.6,334.2 859.2,331.4 857.6,327.2 855.0,321.2 854.2,316.2 851.0,312.2 848.6,309.2 845.8,303.3 845.2,300.5 840.5,300.5 836.5,301.3 830.5,299.9 826.5,297.9 821.4,298.1 820.0,302.1 816.4,301.5 811.4,300.1 810.4,298.1 803.4,296.7 800.7,294.1 802.4,292.1 801.4,289.1 799.9,288.5 794.3,289.1 786.3,289.5 780.2,291.5 776.2,292.9 768.2,291.3 M445.0,255.2 443.0,256.0 M439.6,257.2 437.6,257.8 M433.6,258.4 430.6,258.8 M426.5,259.4 423.5,259.6 M421.5,259.4 418.9,259.2 M414.5,259.2 412.5,258.8 M406.4,257.4 404.4,257.2 M634.5,502.9 639.6,502.2 640.6,504.9 635.5,505.9 634.5,502.9 M243.1,336.3 243.3,340.3 M-666.8,504.4 -617.5,505.0 -601.4,502.0 -587.6,501.0 -583.5,503.0 -565.5,496.0 -559.4,495.5 -547.6,498.0 -527.5,500.0 -525.5,505.0 -519.4,503.0 -507.6,500.0 -487.5,497.4 -465.6,496.0 -459.5,495.4 -447.5,496.6 -439.5,495.4 -431.4,497.4 -419.6,497.0 -407.5,498.0 -403.5,496.6 -387.4,497.4 -377.6,498.6 -367.5,501.0 -347.4,502.6 -333.5,505.0 -325.1,506.5 -335.1,509.9 -339.2,515.9 -331.1,519.9 -305.0,520.5 -284.9,520.5 -264.8,519.3 -254.8,516.9 -244.7,515.9 -224.6,513.9 -204.5,511.9 -184.4,511.5 -164.3,512.9 -144.2,510.9 -124.1,509.9 -103.4,510.4 -99.8,508.5 -93.8,510.0 -79.5,510.7 -80.3,504.0 -78.7,500.2 -73.5,495.7 -67.5,492.8 -61.4,491.3 -54.8,490.5 -58.6,492.0 -64.4,494.2 -72.1,496.5 -75.1,499.5 -71.3,502.5 -66.0,507.0 -64.4,510.7 -67.5,513.8 -73.5,516.7 -78.1,518.2 -58.6,519.0 -52.0,520.0 -28.5,521.7 -17.4,520.9 2.5,515.5 18.6,510.9 32.4,507.7 41.5,506.1 56.8,505.1 M56.8,504.4 106.0,505.0 122.1,502.0 135.9,501.0 140.0,503.0 158.0,496.0 164.1,495.5 175.9,498.0 196.0,500.0 198.0,505.0 204.1,503.0 215.9,500.0 236.0,497.4 257.9,496.0 264.0,495.4 276.0,496.6 284.0,495.4 292.1,497.4 303.9,497.0 316.0,498.0 320.0,496.6 336.1,497.4 345.9,498.6 356.0,501.0 376.1,502.6 390.0,505.0 398.4,506.5 388.4,509.9 384.3,515.9 392.4,519.9 418.5,520.5 438.6,520.5 458.7,519.3 468.7,516.9 478.8,515.9 498.9,513.9 519.0,511.9 539.1,511.5 559.2,512.9 579.3,510.9 599.4,509.9 620.1,510.4 623.7,508.5 629.7,510.0 644.0,510.7 643.2,504.0 644.8,500.2 650.0,495.7 656.0,492.8 662.1,491.3 668.7,490.5 664.9,492.0 659.1,494.2 651.4,496.5 648.4,499.5 652.2,502.5 657.5,507.0 659.1,510.7 656.0,513.8 650.0,516.7 645.4,518.2 664.9,519.0 671.5,520.0 695.0,521.7 706.1,520.9 726.0,515.5 742.1,510.9 755.9,507.7 765.0,506.1 780.2,505.1 M780.2,504.4 829.5,505.0 845.6,502.0 859.4,501.0 863.5,503.0 881.5,496.0 887.6,495.5 899.4,498.0 919.5,500.0 921.5,505.0 927.6,503.0 939.4,500.0 959.5,497.4 981.4,496.0 987.5,495.4 999.5,496.6 1007.5,495.4 1015.6,497.4 1027.4,497.0 1039.5,498.0 1043.5,496.6 1059.6,497.4 1069.4,498.6 1079.5,501.0 1099.6,502.6 1113.5,505.0 1121.9,506.5 1111.9,509.9 1107.8,515.9 1115.9,519.9 1142.0,520.5 1162.1,520.5 1182.2,519.3 1192.2,516.9 1202.3,515.9 1222.4,513.9 1242.5,511.9 1262.6,511.5 1282.7,512.9 1302.8,510.9 1322.9,509.9 1343.6,510.4 1347.2,508.5 1353.2,510.0 1367.5,510.7 1366.7,504.0 1368.3,500.2 1373.5,495.7 1379.5,492.8 1385.6,491.3 1392.2,490.5 1388.4,492.0 1382.6,494.2 1374.9,496.5 1371.9,499.5 1375.7,502.5 1381.0,507.0 1382.6,510.7 1379.5,513.8 1373.5,516.7 1368.9,518.2 1388.4,519.0 1395.0,520.0 1418.5,521.7 1429.6,520.9 1449.5,515.5 1465.6,510.9 1479.4,507.7 1488.5,506.1 1503.8,505.1 M650.6,263.4 656.3,264.6 M656.7,330.8 657.7,334.2 657.3,336.9 M122.3,303.3 126.1,304.1 127.1,307.1 131.1,312.2 134.1,316.2 135.5,320.2 138.1,325.2 141.2,330.2 142.8,334.2 143.8,337.9 147.2,337.7 153.2,335.2 157.2,333.2 161.7,331.8 168.3,328.2 171.3,325.4 172.9,322.6 174.9,320.2 176.9,318.2 174.3,316.0 170.1,313.4 169.3,310.8 168.3,312.2 166.3,314.8 161.3,315.2 160.3,313.2 159.8,311.0 158.2,312.2 157.4,310.2 154.8,307.5 153.0,304.1 154.6,303.1 157.6,302.9 160.3,307.3 164.3,309.6 169.9,309.0 171.9,311.6 176.3,312.4 180.3,313.0 185.4,312.6 190.4,312.4 192.4,315.2 195.0,317.6 198.4,321.2 203.1,320.6 203.3,325.2 204.5,331.2 206.5,336.3 208.5,340.3 210.5,345.7 212.5,347.1 213.9,345.5 216.1,342.7 217.3,339.3 217.9,332.2 221.9,330.0 225.6,326.6 230.6,323.4 231.6,320.2 234.6,320.0 237.6,319.2 240.6,318.2 242.2,321.8 244.3,324.2 246.3,331.2 248.7,331.6 252.7,330.2 253.1,333.6 254.7,337.3 254.9,343.3 254.3,346.3 258.1,350.3 258.7,355.3 260.3,357.7 264.8,360.7 266.2,360.5 264.6,356.3 264.6,353.5 262.1,350.9 259.7,349.5 258.3,346.3 256.1,344.7 256.7,341.3 257.7,338.3 259.7,337.9 262.7,339.1 263.8,341.3 266.8,342.3 267.8,346.1 270.8,344.3 272.8,342.3 276.2,340.1 276.4,336.3 275.4,332.2 271.4,328.2 269.2,325.2 271.2,321.8 273.8,320.2 277.6,320.2 278.4,322.6 279.8,320.2 283.8,318.8 286.5,318.6 290.9,317.2 294.9,314.2 297.3,311.2 298.1,308.2 300.9,306.1 301.9,303.1 300.5,301.5 301.5,299.7 299.5,297.9 298.9,294.7 296.5,293.5 298.5,291.1 300.9,289.5 302.9,288.7 299.9,287.7 295.9,288.7 295.7,286.5 293.1,285.3 294.9,284.7 297.9,283.1 300.9,281.5 300.3,285.1 302.3,284.1 306.4,283.3 308.4,284.3 308.6,287.1 310.6,288.5 311.0,293.1 313.0,293.9 316.6,292.5 317.0,290.1 315.2,286.7 313.0,284.1 317.4,281.5 317.8,278.4 320.4,277.4 323.0,276.6 328.5,275.8 333.1,272.0 335.3,268.6 338.7,265.6 339.1,262.6 339.7,259.6 340.9,258.0 340.5,256.4 336.1,254.6 332.1,255.4 328.7,253.4 334.5,249.9 339.1,247.3 343.1,244.5 349.2,244.1 355.2,244.3 360.8,244.9 365.8,244.5 368.3,242.9 371.7,240.3 377.3,239.5 378.9,240.9 385.3,239.9 380.7,242.9 374.9,246.9 371.7,248.9 370.3,255.0 371.5,260.6 375.3,257.2 378.3,256.6 378.9,254.0 382.3,251.9 384.9,250.5 382.9,247.7 384.9,244.9 389.4,242.5 392.4,242.3 399.0,243.1 403.4,240.9 407.4,239.3 413.5,237.9 416.9,238.3 416.5,235.9 415.5,233.7 412.5,233.3 417.5,232.9 421.5,231.9 428.5,230.3 433.6,231.9 439.2,230.7 434.6,228.9 428.5,227.7 418.5,225.1 410.5,223.2 402.4,223.0 398.4,222.6 394.4,223.6 388.4,223.4 380.3,223.6 378.3,221.2 370.3,220.6 362.2,221.0 358.2,219.6 352.2,218.2 342.1,217.4 337.1,218.0 330.1,219.6 324.0,220.0 318.0,217.8 312.0,215.8 306.0,215.6 297.9,216.8 289.9,215.6 283.8,215.4 279.8,215.8 273.8,216.2 269.8,215.0 277.8,213.8 283.8,211.8 273.8,209.4 266.4,207.4 254.9,210.0 240.0,211.2 230.0,213.8 219.9,217.0 210.1,217.4 207.5,220.0 203.7,226.3 200.0,217.4 195.0,216.2 190.0,218.8 189.4,223.8 183.4,222.8 177.5,222.8 165.1,224.5 157.2,226.9 145.2,226.3 144.2,230.1 145.2,230.9 137.1,229.9 133.1,233.9 129.1,234.5 126.1,233.3 126.1,230.1 122.1,228.9 129.1,230.1 139.1,228.5 138.1,227.3 133.1,225.5 123.1,224.0 115.0,223.0 108.6,220.6 99.0,222.2 90.9,224.2 84.9,226.9 81.9,230.9 76.8,234.9 73.8,235.9 66.8,238.9 66.8,242.9 67.8,245.3 70.8,246.9 73.8,246.3 77.9,244.3 78.9,244.9 79.9,246.9 81.9,249.9 82.9,252.1 85.5,251.9 88.9,250.5 90.1,247.9 92.9,244.3 91.9,241.7 91.5,239.9 92.9,237.3 97.9,235.3 101.0,231.9 105.0,231.3 107.6,233.1 101.6,236.5 99.6,239.9 100.0,241.9 102.6,243.1 107.0,242.5 113.0,241.9 117.4,243.1 113.0,243.9 104.0,244.5 104.0,246.3 106.0,246.9 100.0,247.9 99.0,249.9 99.2,251.5 96.9,253.4 94.1,253.8 89.9,254.0 85.3,255.2 80.9,254.6 78.9,255.0 76.8,254.0 77.9,251.9 77.9,247.5 73.2,248.9 73.0,251.9 74.4,255.0 70.8,256.0 66.8,256.8 65.8,258.4 63.8,260.2 61.8,260.8 60.0,261.2 59.8,262.6 56.8,264.0 54.1,263.6 52.9,263.6 53.7,265.8 50.7,265.4 47.3,266.2 48.1,267.4 51.7,268.4 53.7,271.0 54.3,274.0 53.1,276.2 49.7,276.0 44.7,275.8 40.7,275.6 38.1,277.0 39.1,279.0 38.9,282.1 37.7,285.5 39.1,287.5 38.7,289.1 41.7,288.7 44.1,289.5 45.5,291.1 M845.8,303.3 849.6,304.1 850.6,307.1 854.6,312.2 857.6,316.2 859.0,320.2 861.6,325.2 864.7,330.2 866.3,334.2 867.3,337.9 870.7,337.7 876.7,335.2 880.7,333.2 885.2,331.8 891.8,328.2 894.8,325.4 896.4,322.6 898.4,320.2 900.4,318.2 897.8,316.0 893.6,313.4 892.8,310.8 891.8,312.2 889.8,314.8 884.8,315.2 883.8,313.2 883.3,311.0 881.7,312.2 880.9,310.2 878.3,307.5 876.5,304.1 878.1,303.1 881.1,302.9 883.8,307.3 887.8,309.6 893.4,309.0 895.4,311.6 899.8,312.4 903.8,313.0 908.9,312.6 913.9,312.4 915.9,315.2 918.5,317.6 921.9,321.2 926.6,320.6 926.8,325.2 928.0,331.2 930.0,336.3 932.0,340.3 934.0,345.7 936.0,347.1 937.4,345.5 939.6,342.7 940.8,339.3 941.4,332.2 945.4,330.0 949.1,326.6 954.1,323.4 955.1,320.2 958.1,320.0 961.1,319.2 964.1,318.2 965.7,321.8 967.8,324.2 969.8,331.2 972.2,331.6 976.2,330.2 976.6,333.6 978.2,337.3 978.4,343.3 977.8,346.3 981.6,350.3 982.2,355.3 983.8,357.7 988.3,360.7 989.7,360.5 988.1,356.3 988.1,353.5 985.6,350.9 983.2,349.5 981.8,346.3 979.6,344.7 980.2,341.3 981.2,338.3 983.2,337.9 986.2,339.1 987.3,341.3 990.3,342.3 991.3,346.1 994.3,344.3 996.3,342.3 999.7,340.1 999.9,336.3 998.9,332.2 994.9,328.2 992.7,325.2 994.7,321.8 997.3,320.2 1001.1,320.2 1001.9,322.6 1003.3,320.2 1007.3,318.8 1010.0,318.6 1014.4,317.2 1018.4,314.2 1020.8,311.2 1021.6,308.2 1024.4,306.1 1025.4,303.1 1024.0,301.5 1025.0,299.7 1023.0,297.9 1022.4,294.7 1020.0,293.5 1022.0,291.1 1024.4,289.5 1026.4,288.7 1023.4,287.7 1019.4,288.7 1019.2,286.5 1016.6,285.3 1018.4,284.7 1021.4,283.1 1024.4,281.5 1023.8,285.1 1025.8,284.1 1029.9,283.3 1031.9,284.3 1032.1,287.1 1034.1,288.5 1034.5,293.1 1036.5,293.9 1040.1,292.5 1040.5,290.1 1038.7,286.7 1036.5,284.1 1040.9,281.5 1041.3,278.4 1043.9,277.4 1046.5,276.6 1052.0,275.8 1056.6,272.0 1058.8,268.6 1062.2,265.6 1062.6,262.6 1063.2,259.6 1064.4,258.0 1064.0,256.4 1059.6,254.6 1055.6,255.4 1052.2,253.4 1058.0,249.9 1062.6,247.3 1066.6,244.5 1072.7,244.1 1078.7,244.3 1084.3,244.9 1089.3,244.5 1091.8,242.9 1095.2,240.3 1100.8,239.5 1102.4,240.9 1108.8,239.9 1104.2,242.9 1098.4,246.9 1095.2,248.9 1093.8,255.0 1095.0,260.6 1098.8,257.2 1101.8,256.6 1102.4,254.0 1105.8,251.9 1108.4,250.5 1106.4,247.7 1108.4,244.9 1112.9,242.5 1115.9,242.3 1122.5,243.1 1126.9,240.9 1130.9,239.3 1137.0,237.9 1140.4,238.3 1140.0,235.9 1139.0,233.7 1136.0,233.3 1141.0,232.9 1145.0,231.9 1152.0,230.3 1157.1,231.9 1162.7,230.7 1158.1,228.9 1152.0,227.7 1142.0,225.1 1134.0,223.2 1125.9,223.0 1121.9,222.6 1117.9,223.6 1111.9,223.4 1103.8,223.6 1101.8,221.2 1093.8,220.6 1085.7,221.0 1081.7,219.6 1075.7,218.2 1065.6,217.4 1060.6,218.0 1053.6,219.6 1047.5,220.0 1041.5,217.8 1035.5,215.8 1029.5,215.6 1021.4,216.8 1013.4,215.6 1007.3,215.4 1003.3,215.8 997.3,216.2 993.3,215.0 1001.3,213.8 1007.3,211.8 997.3,209.4 989.9,207.4 978.4,210.0 963.5,211.2 953.5,213.8 943.4,217.0 933.6,217.4 931.0,220.0 927.2,226.3 923.5,217.4 918.5,216.2 913.5,218.8 912.9,223.8 906.9,222.8 901.0,222.8 888.6,224.5 880.7,226.9 868.7,226.3 867.7,230.1 868.7,230.9 860.6,229.9 856.6,233.9 852.6,234.5 849.6,233.3 849.6,230.1 845.6,228.9 852.6,230.1 862.6,228.5 861.6,227.3 856.6,225.5 846.6,224.0 838.5,223.0 832.1,220.6 822.5,222.2 814.4,224.2 808.4,226.9 805.4,230.9 800.3,234.9 797.3,235.9 790.3,238.9 790.3,242.9 791.3,245.3 794.3,246.9 797.3,246.3 801.4,244.3 802.4,244.9 803.4,246.9 805.4,249.9 806.4,252.1 809.0,251.9 812.4,250.5 813.6,247.9 816.4,244.3 815.4,241.7 815.0,239.9 816.4,237.3 821.4,235.3 824.5,231.9 828.5,231.3 831.1,233.1 825.1,236.5 823.1,239.9 823.5,241.9 826.1,243.1 830.5,242.5 836.5,241.9 840.9,243.1 836.5,243.9 827.5,244.5 827.5,246.3 829.5,246.9 823.5,247.9 822.5,249.9 822.7,251.5 820.4,253.4 817.6,253.8 813.4,254.0 808.8,255.2 804.4,254.6 802.4,255.0 800.3,254.0 801.4,251.9 801.4,247.5 796.7,248.9 796.5,251.9 797.9,255.0 794.3,256.0 790.3,256.8 789.3,258.4 787.3,260.2 785.3,260.8 783.5,261.2 783.3,262.6 780.2,264.0 777.6,263.6 776.4,263.6 777.2,265.8 774.2,265.4 770.8,266.2 771.6,267.4 775.2,268.4 777.2,271.0 777.8,274.0 776.6,276.2 773.2,276.0 768.2,275.8 764.2,275.6 761.6,277.0 762.6,279.0 762.4,282.1 761.2,285.5 762.6,287.5 762.2,289.1 765.2,288.7 767.6,289.5 769.0,291.1 M174.3,270.0 180.3,270.0 179.3,275.0 175.3,276.0 173.9,273.0 174.3,270.0 M285.9,407.5 284.9,413.5 286.3,416.5 287.9,422.6 288.9,427.6 287.9,432.2 291.9,433.6 295.9,432.6 300.9,431.2 306.0,429.6 310.0,428.2 316.0,426.8 321.0,426.6 326.1,428.6 329.1,433.2 333.1,429.6 333.7,434.6 337.1,435.2 339.1,439.6 345.1,441.2 350.2,441.6 354.2,439.2 358.2,438.6 359.2,434.6 360.8,431.2 363.2,427.6 365.2,421.6 364.2,415.5 363.2,413.5 359.2,408.5 356.2,404.5 350.8,401.5 349.2,396.5 348.8,393.5 345.1,391.5 343.1,384.8 341.3,389.0 341.1,395.5 339.1,398.5 336.1,397.1 332.1,395.1 329.1,393.5 331.1,390.4 331.7,387.8 328.1,387.8 323.0,386.4 320.0,387.8 318.0,390.0 317.0,393.5 313.0,391.5 309.0,392.5 306.0,396.5 302.9,398.5 300.9,402.5 294.9,404.1 290.9,404.9 285.9,407.5 M723.0,285.9 725.0,286.1 M619.5,215.4 627.5,217.2 637.6,220.8 645.6,223.8 655.6,229.3 651.6,231.9 648.6,235.9 642.6,237.3 637.6,237.3 633.5,234.9 627.5,234.3 623.5,233.9 629.5,229.9 633.5,227.9 629.5,225.9 621.5,223.2 611.4,222.8 601.4,219.8 605.4,215.8 619.5,215.4 M623.5,309.8 625.5,310.2 M623.5,314.2 624.5,315.6 M627.5,314.2 628.5,316.2 631.5,318.2 M265.8,259.4 269.8,258.0 275.8,252.4 276.8,251.3 273.8,256.0 267.8,260.0 265.8,259.4 M61.6,283.9 63.6,283.5 M286.9,379.8 289.3,380.8 M204.5,270.4 209.5,269.8 215.5,270.4 215.5,271.4 209.5,271.0 204.5,271.2 204.5,270.4 M115.0,280.7 120.1,280.7 124.1,279.0 127.1,279.0 130.1,280.5 134.1,281.3 140.2,280.1 140.4,277.8 137.1,276.2 133.1,274.2 130.3,272.6 127.1,271.6 133.1,268.6 135.5,268.4 130.1,269.8 127.1,270.4 124.1,274.0 122.1,272.2 124.1,271.0 120.1,270.0 118.0,270.0 116.4,272.4 114.2,275.0 112.8,277.6 113.0,280.1 115.0,280.7 M275.8,360.3 276.8,365.4 278.8,369.4 286.9,370.4 290.9,368.4 289.9,365.4 292.9,362.3 293.9,361.3 295.9,353.3 292.9,349.7 291.5,349.3 288.9,352.7 284.9,355.3 279.8,358.3 276.8,359.7 275.8,360.3 M310.0,369.8 312.4,370.2 311.0,371.0 310.0,369.8 M746.7,306.5 749.1,307.1 752.1,305.7 M731.0,329.6 733.0,333.0 M155.2,270.0 159.2,269.0 163.3,269.4 163.3,272.4 160.3,274.0 159.2,277.0 162.9,279.0 163.3,282.1 165.3,286.1 165.3,288.5 159.2,289.7 155.6,287.9 154.8,285.5 156.2,282.5 154.2,279.4 152.2,277.0 151.6,274.4 151.2,272.0 154.2,270.6 155.2,270.0 M83.9,336.3 85.9,336.3 85.9,337.7 83.9,337.7 83.9,336.3 M631.5,447.3 632.5,450.3 M613.4,237.3 616.5,237.9 M390.4,252.6 392.4,253.2 M75.6,277.0 75.8,280.3 74.0,279.4 75.6,277.0 M104.0,292.5 109.6,292.7 106.0,293.1 104.0,292.5 M609.4,319.4 615.5,316.8 621.5,318.2 628.5,321.2 631.1,322.8 624.5,323.4 622.5,320.2 615.5,319.8 609.4,319.4 M121.7,293.1 126.1,291.9 124.1,293.9 121.7,293.1 M670.7,223.2 675.7,223.8 673.7,222.2 670.7,223.2 M612.4,279.6 621.5,277.4 619.5,278.0 613.4,279.0 612.4,279.6 M45.5,291.1 47.9,289.7 52.7,289.5 55.7,286.7 57.2,285.1 56.1,284.1 56.8,282.1 58.8,281.1 63.2,279.0 62.8,276.6 65.8,276.0 69.8,276.8 71.8,275.4 74.4,274.2 77.2,275.2 78.1,277.2 81.9,280.5 85.3,281.5 88.3,283.1 88.9,287.1 88.1,287.3 90.1,285.5 91.3,284.3 89.9,283.1 93.9,282.9 90.9,281.1 88.3,279.0 84.9,277.8 81.7,274.6 81.5,272.4 84.3,271.8 84.1,273.2 87.3,274.6 88.9,276.0 91.9,277.0 95.7,279.4 95.9,281.9 96.9,284.1 99.2,286.5 100.2,289.3 102.0,290.3 103.0,288.1 105.0,287.1 102.8,284.5 105.0,281.7 109.0,281.5 109.4,283.1 110.6,285.1 111.4,288.1 113.6,289.7 118.0,290.1 122.1,290.9 126.1,289.5 129.1,289.9 128.7,292.1 128.9,294.1 127.3,297.1 126.1,300.1 122.3,301.1 121.7,300.5 M769.0,291.1 771.4,289.7 776.2,289.5 779.2,286.7 780.7,285.1 779.6,284.1 780.2,282.1 782.3,281.1 786.7,279.0 786.3,276.6 789.3,276.0 793.3,276.8 795.3,275.4 797.9,274.2 800.7,275.2 801.6,277.2 805.4,280.5 808.8,281.5 811.8,283.1 812.4,287.1 811.6,287.3 813.6,285.5 814.8,284.3 813.4,283.1 817.4,282.9 814.4,281.1 811.8,279.0 808.4,277.8 805.2,274.6 805.0,272.4 807.8,271.8 807.6,273.2 810.8,274.6 812.4,276.0 815.4,277.0 819.2,279.4 819.4,281.9 820.4,284.1 822.7,286.5 823.7,289.3 825.5,290.3 826.5,288.1 828.5,287.1 826.3,284.5 828.5,281.7 832.5,281.5 832.9,283.1 834.1,285.1 834.9,288.1 837.1,289.7 841.5,290.1 845.6,290.9 849.6,289.5 852.6,289.9 852.2,292.1 852.4,294.1 850.8,297.1 849.6,300.1 845.8,301.1 845.2,300.5 M657.1,466.5 663.7,466.3 664.1,467.5 660.7,468.3 657.7,467.7 657.1,466.5 M765.8,238.5 767.2,239.1 M413.1,398.1 415.5,398.5 415.1,399.9 413.3,399.5 413.1,398.1 M416.1,396.1 419.1,395.7 M147.2,201.6 157.2,201.0 165.3,202.0 155.2,202.6 147.2,201.6 M169.3,200.4 181.4,200.8 187.4,201.6 175.3,202.0 169.3,200.4 M291.9,381.0 295.9,380.4 303.9,379.8 297.9,381.0 291.9,381.0 M596.8,364.2 598.0,364.8 M45.3,262.8 49.7,262.4 54.7,261.6 59.6,260.6 60.2,257.6 57.2,256.2 55.7,254.0 53.7,251.9 51.7,250.9 52.7,247.7 49.7,247.3 50.7,245.7 46.7,245.7 45.5,247.9 44.7,249.9 45.7,252.4 47.1,253.4 50.3,253.2 50.7,255.4 50.7,256.6 47.7,257.4 48.7,259.0 46.7,259.6 50.3,260.2 46.7,261.0 45.3,262.8 M768.8,262.8 773.2,262.4 778.2,261.6 783.1,260.6 783.7,257.6 780.7,256.2 779.2,254.0 777.2,251.9 775.2,250.9 776.2,247.7 773.2,247.3 774.2,245.7 770.2,245.7 769.0,247.9 768.2,249.9 769.2,252.4 770.6,253.4 773.8,253.2 774.2,255.4 774.2,256.6 771.2,257.4 772.2,259.0 770.2,259.6 773.8,260.2 770.2,261.0 768.8,262.8 M529.0,230.9 539.1,229.3 542.1,231.9 533.1,233.3 529.0,230.9 M545.1,240.3 551.1,238.3 558.2,237.3 M633.5,205.8 643.6,201.8 659.7,198.8 689.8,197.2 715.9,195.5 736.0,197.8 756.1,199.8 743.1,203.8 740.1,208.8 743.1,212.8 736.0,217.8 736.0,221.8 730.0,223.8 720.0,226.9 709.9,230.9 699.9,232.9 694.8,239.9 691.8,243.3 683.8,240.9 678.8,235.9 674.7,230.9 672.7,227.9 671.7,223.8 675.7,221.8 668.7,217.8 663.7,211.8 655.6,210.8 646.6,210.4 640.6,207.8 633.5,205.8 M513.0,255.0 516.0,256.0 517.0,258.6 514.0,257.0 M275.2,325.2 277.8,323.0 279.8,324.0 278.4,326.6 276.4,326.6 275.2,325.2 M313.0,358.9 315.0,360.3 313.6,362.3 315.6,365.0 313.2,363.4 313.0,358.9 M468.7,324.8 466.9,323.6 467.1,322.8 468.7,324.8 M465.7,321.8 464.1,321.0 462.1,320.2 459.7,319.0 M630.5,326.2 633.9,323.4 640.6,324.2 642.8,326.0 637.6,326.8 630.7,326.8 630.5,326.2 M338.1,280.1 340.1,279.4 344.7,279.0 349.8,276.4 347.2,275.0 341.7,272.2 341.1,276.0 339.1,276.6 338.1,278.6 338.1,280.1 M319.8,295.1 323.0,292.3 329.1,291.9 331.7,288.7 335.1,287.5 338.1,284.1 338.1,281.5 340.9,280.5 342.1,284.1 340.1,286.7 339.7,291.1 337.7,293.1 335.1,293.7 332.1,293.9 329.1,294.7 324.0,294.5 319.8,295.1 M610.4,271.4 616.5,272.4 619.5,274.0 614.4,277.0 612.4,275.0 610.4,271.4 M735.0,234.9 732.0,231.9 736.0,230.3 744.1,230.7 750.1,230.3 751.1,232.3 750.1,234.3 743.1,236.1 735.0,235.3 735.0,234.9 M768.2,258.6 768.0,256.0 769.2,254.0 767.2,252.6 764.2,252.6 763.2,254.2 760.2,254.6 760.6,256.2 759.5,259.0 761.2,260.0 764.2,259.4 768.2,258.6 M209.9,278.0 214.5,278.4 M622.9,326.4 626.9,326.8 625.5,327.4 622.9,326.4 M268.2,377.0 270.8,375.4 274.8,376.4 279.8,376.4 283.2,377.2 286.9,379.0 286.7,380.8 279.8,379.8 273.8,379.0 268.8,377.4 268.2,377.0 M195.8,461.9 197.2,462.5 M469.7,248.5 473.8,247.9 473.2,246.3 469.7,248.5 M349.2,276.0 353.2,273.8 M355.2,272.4 359.2,270.4 M362.2,268.6 366.2,266.0 M368.3,264.0 371.3,261.4 M318.0,296.1 321.0,296.1 321.4,300.1 319.0,301.1 317.6,297.5 318.0,296.1 M117.0,242.5 119.1,239.9 122.7,240.9 120.1,242.5 117.0,242.5 M631.5,281.9 635.5,281.1 M298.9,326.2 302.3,326.2 301.9,330.2 300.9,334.2 306.0,337.3 303.9,336.3 299.5,335.7 297.9,331.2 298.9,326.2 M155.8,387.4 158.2,394.5 156.8,398.5 154.2,404.5 151.6,413.1 148.2,414.5 145.2,413.1 143.8,407.5 146.0,403.5 145.2,397.5 150.2,395.1 153.2,390.4 155.8,387.4 M745.7,297.7 746.7,297.7 M125.5,383.0 126.5,387.4 127.5,391.9 M167.9,405.5 168.9,406.1 M603.8,279.0 604.4,274.0 608.4,271.4 608.4,275.0 606.4,279.0 603.8,279.0 M301.9,349.3 305.0,347.7 309.0,344.3 311.0,349.3 310.0,351.3 308.0,351.7 306.0,350.3 301.9,349.3 M298.5,336.3 300.9,337.3 299.9,338.7 298.5,336.3 M442.6,231.7 449.7,229.9 455.7,230.1 451.7,227.7 445.0,226.2 446.2,225.1 452.7,223.4 454.9,222.2 465.7,220.0 474.8,221.2 481.8,222.0 490.9,222.6 496.9,223.4 506.9,224.9 509.9,223.6 519.0,222.8 523.0,221.6 530.0,224.0 539.1,224.5 549.1,226.5 555.2,227.3 565.2,225.9 577.3,227.3 587.3,226.5 591.3,224.9 588.3,219.8 595.4,222.8 601.4,225.9 605.4,227.9 611.4,223.8 615.5,228.9 607.4,229.9 607.4,233.9 598.4,235.9 595.4,237.3 590.9,241.9 590.9,245.3 594.4,248.9 603.4,251.9 615.1,252.6 618.5,260.0 620.9,260.0 621.9,258.0 621.5,254.0 625.5,252.4 625.5,246.9 622.5,245.3 624.5,241.9 623.1,238.3 629.5,238.3 635.5,239.9 640.6,244.9 644.6,245.9 649.6,242.3 653.6,246.9 656.7,249.9 659.7,253.0 664.7,256.0 667.7,259.0 665.3,260.0 659.7,262.6 651.6,262.6 646.6,263.0 642.6,265.0 637.6,269.4 639.6,268.0 651.0,265.4 649.6,267.0 650.0,269.0 657.7,272.0 658.7,269.0 659.7,270.6 656.7,271.8 652.6,274.0 648.0,276.0 647.0,274.0 650.6,272.4 645.6,273.0 643.6,274.4 639.2,276.0 638.0,277.8 639.6,279.4 636.6,280.3 631.5,281.7 631.1,284.1 629.5,285.5 628.5,287.5 627.5,289.1 628.5,292.7 625.5,294.1 621.5,296.7 617.5,299.5 616.5,302.1 618.5,306.1 619.5,310.2 618.5,312.8 617.1,312.2 615.5,309.6 614.0,307.1 612.4,303.5 609.4,303.7 606.4,302.3 602.4,302.5 600.4,302.7 601.0,304.9 597.4,304.5 592.3,303.7 589.3,304.5 584.7,308.2 584.3,311.6 583.9,316.2 584.3,320.2 586.3,324.2 589.3,326.0 590.3,326.8 595.4,326.0 597.4,325.4 598.4,322.2 599.4,320.6 604.4,320.2 605.4,323.2 603.8,326.6 602.8,330.2 603.4,331.6 609.4,331.2 612.8,333.2 612.4,339.3 612.0,341.3 613.4,343.3 617.5,345.7 620.5,344.3 624.5,346.1 627.5,344.3 628.5,342.3 631.1,340.9 634.5,339.3 636.6,341.3 636.0,341.7 639.6,338.9 643.6,342.3 647.6,342.3 651.6,342.1 655.6,341.9 657.7,343.7 658.7,346.3 662.7,349.3 665.7,351.3 671.7,351.7 675.7,353.3 677.8,355.3 679.8,359.7 679.8,363.4 682.8,365.4 687.8,365.4 690.8,368.4 695.8,369.0 701.9,370.4 705.9,373.4 709.5,374.4 710.3,378.4 709.9,381.4 705.9,385.4 702.9,389.4 701.9,394.5 700.9,399.5 698.9,404.5 695.8,409.3 691.8,409.5 686.8,411.5 682.8,415.5 682.2,420.6 678.8,424.6 674.7,429.6 671.7,433.2 667.7,433.4 664.7,432.0 662.9,432.6 665.7,436.0 664.7,439.6 659.7,441.2 655.0,441.2 655.0,444.6 649.6,445.6 651.6,448.7 649.0,452.7 644.6,455.7 647.6,458.7 642.6,463.7 641.6,466.7 642.6,468.7 646.6,473.3 639.6,473.7 635.5,471.7 630.5,468.7 628.5,459.7 631.5,451.7 632.5,446.6 632.5,438.6 635.5,433.6 636.6,427.6 636.8,419.6 638.6,412.5 639.2,403.5 638.6,400.1 634.5,397.5 628.5,393.5 626.5,389.4 623.5,384.4 620.5,378.4 617.5,375.4 617.1,372.4 619.5,369.4 618.5,365.4 619.5,361.3 621.9,360.3 624.5,356.3 624.9,351.3 624.5,349.3 623.1,346.9 620.5,345.7 618.5,348.7 615.5,346.9 611.4,344.3 607.8,342.3 608.0,340.9 604.4,337.5 601.4,336.5 596.4,335.2 594.4,334.2 591.3,331.2 586.3,331.8 582.3,330.6 577.3,328.6 572.2,326.6 568.2,323.2 568.6,320.2 567.2,317.2 563.2,313.2 560.2,310.2 557.2,307.3 554.2,303.5 549.5,299.7 553.2,305.1 556.2,310.2 558.6,314.8 560.2,316.8 558.2,316.2 554.8,313.6 555.2,311.2 550.7,307.5 551.1,306.1 548.1,303.5 545.1,298.5 542.1,295.1 537.9,294.1 535.3,290.1 534.1,287.5 531.4,284.1 530.4,282.5 530.6,278.0 531.0,271.0 529.6,266.4 533.1,267.0 534.1,268.0 533.1,265.0 529.0,263.0 524.0,261.4 523.0,259.0 519.0,255.0 518.0,253.6 516.0,251.9 512.0,248.5 506.9,246.5 500.9,243.9 495.9,242.9 490.9,242.9 485.8,241.3 482.8,242.9 477.8,243.9 475.2,244.5 478.8,240.5 473.8,242.9 470.8,245.5 466.7,247.9 461.7,250.3 456.7,251.9 452.7,253.2 449.0,254.0 453.7,251.5 460.7,245.9 464.7,245.3 455.1,245.7 453.7,242.9 448.6,241.9 448.0,239.3 449.7,236.9 456.7,235.9 456.7,233.9 451.7,233.9 446.0,233.7 442.6,231.7 M303.5,341.5 305.0,342.3 303.9,345.1 302.9,343.7 303.5,341.5 M355.2,374.4 362.2,372.0 361.2,374.4 355.8,375.8 355.2,374.4 M386.3,403.9 392.4,408.5 391.4,407.9 386.7,404.7 386.3,403.9 M661.1,267.8 673.7,269.6 674.3,267.6 668.7,264.0 668.7,259.8 664.7,262.0 661.7,266.0 661.1,267.8 M320.0,365.8 326.1,365.0 332.1,366.4 340.1,368.6 348.2,372.4 350.2,374.4 353.2,376.4 354.2,379.4 358.2,384.4 352.2,383.4 346.1,378.8 343.1,382.0 340.1,381.4 336.1,379.6 334.1,380.4 333.1,376.4 328.1,372.0 323.0,371.4 322.0,369.0 320.0,365.8 M359.8,368.6 364.2,372.6 M161.3,220.2 167.3,216.2 171.3,212.2 181.4,210.2 194.4,208.8 185.4,211.8 173.3,215.8 168.3,220.8 161.3,220.2 M332.1,211.8 342.1,215.4 358.2,213.2 338.1,210.8 332.1,211.8 M445.6,242.5 447.6,242.9 M404.4,432.6 408.0,437.2 410.5,438.8 415.5,439.0 413.5,442.0 411.5,444.6 408.5,446.6 408.0,443.2 406.4,441.6 407.4,438.6 404.4,434.2 404.4,432.6 M403.8,444.6 406.8,446.6 404.4,450.7 400.4,453.7 398.4,456.7 394.4,456.7 391.4,455.3 395.4,451.7 400.4,448.7 402.4,445.6 403.8,444.6 M126.1,240.5 128.7,237.9 129.7,239.9 126.1,240.5 M619.9,276.4 627.1,275.0 624.5,276.4 619.9,276.4 M292.3,346.5 296.9,341.7 M301.9,339.7 304.3,340.7 302.3,342.3 301.9,339.7 M651.0,269.8 655.6,270.4 M645.2,326.4 648.4,326.6 647.6,327.2 645.2,327.2 645.2,326.4 M313.2,311.0 314.6,309.6 M316.6,306.7 317.4,306.1 M342.1,271.0 345.1,270.0 344.1,265.0 346.1,264.0 344.1,258.0 343.7,254.4 342.1,256.0 342.5,261.0 342.1,267.0 342.1,271.0 M306.6,338.3 309.4,338.7 308.4,341.5 306.6,338.3 M433.6,390.6 435.6,391.5 M73.6,280.9 76.4,281.1 75.8,284.9 73.6,285.1 73.6,280.9 M314.0,369.4 319.6,370.2 317.0,370.6 314.0,369.4 M247.7,202.8 263.8,204.2 267.8,205.8 257.7,206.8 247.7,203.8 247.7,202.8 M704.3,471.9 707.3,472.9 M323.0,297.1 327.1,294.9 327.5,296.1 324.0,297.5 323.0,297.1 M81.9,286.9 88.1,286.7 87.1,289.7 81.9,287.9 81.9,286.9 M164.3,338.1 165.9,338.5 M371.3,377.0 377.3,379.4 M377.3,381.4 380.3,383.4 M379.3,380.0 382.3,382.4 M687.8,485.0 690.8,485.2 M605.4,235.9 619.5,234.9 607.4,230.9 605.4,235.9 M217.1,349.3 217.9,343.7 220.1,346.3 221.1,349.3 218.5,351.3 217.1,349.3 M654.6,487.8 661.7,489.0 M435.6,235.7 441.0,236.5 438.6,236.9 435.6,235.7 M296.9,374.4 296.5,370.4 295.5,368.8 297.5,363.4 298.9,360.9 307.0,360.3 308.0,360.1 303.9,362.3 299.5,362.1 300.9,365.4 304.5,365.4 300.9,367.4 302.9,373.0 299.9,370.4 298.9,374.4 296.9,374.4 M248.3,352.3 252.7,352.9 258.7,359.3 265.8,365.4 269.8,369.4 269.4,375.0 266.8,375.2 261.7,371.4 257.7,365.4 254.7,359.9 248.7,357.3 248.3,352.3 M296.9,382.6 299.5,383.8 M291.5,380.2 295.9,380.6 M595.4,269.6 600.4,267.0 603.4,265.4 609.4,267.2 610.2,270.0 603.4,270.0 595.4,269.6 M78.9,205.8 88.9,203.2 111.0,202.2 107.0,204.8 101.0,207.8 90.9,209.8 84.9,207.8 78.9,205.8 M298.3,317.2 299.9,312.8 301.9,313.2 300.9,317.2 299.5,319.2 298.3,317.2 M115.4,370.4 117.0,375.4 119.1,380.4 M347.6,445.0 354.8,445.4 354.2,449.7 351.2,450.9 348.6,448.1 347.6,445.0 M642.6,468.7 648.6,473.3 639.6,473.7 635.5,471.7 642.6,468.7 M306.0,382.4 312.6,380.2 309.0,381.8 305.0,384.0 306.0,382.4 M655.8,341.9 657.7,341.7 657.7,343.1 655.8,343.1 655.8,341.9 M522.2,261.4 531.0,266.2 532.5,266.2 529.0,263.0 522.2,261.4 M391.6,393.1 393.4,396.5 395.4,399.1 396.8,402.5 M121.1,364.0 125.1,364.4 124.9,368.4 120.7,367.4 121.1,364.0 M584.3,262.0 581.3,256.0 M416.5,219.8 424.5,220.4 422.5,221.2 417.5,221.0 416.5,219.8 M589.5,202.2 593.0,199.5 598.5,199.2 609.0,197.4 618.0,196.6 632.0,196.4 M589.5,202.2 594.0,204.5 604.0,206.0 620.0,207.5 627.0,205.2 630.0,203.0 634.0,200.5 636.0,198.0 M587.0,207.5 600.0,209.0 612.0,209.2 620.0,209.8 618.0,213.0 600.0,213.5 590.0,212.0 587.0,207.5 M530.2,210.4 536.2,208.5 545.2,207.4 549.8,206.2 560.2,205.5 561.0,206.6 556.5,208.1 566.2,210.0 567.0,212.2 560.2,212.2 553.5,212.6 543.8,211.9 536.2,211.1 530.2,210.4 M566.2,204.0 573.8,203.2 580.5,202.5 583.5,204.8 580.5,207.0 573.8,207.4 567.0,205.5 566.2,204.0 M568.5,207.8 571.5,209.2 577.5,209.2 583.5,210.0 582.8,212.2 576.0,212.6 571.5,211.5 568.5,207.8 M528.8,217.5 530.2,214.5 538.5,214.1 543.8,215.2 541.5,217.5 543.8,219.8 536.2,220.5 529.5,219.8 528.8,217.5 M542.2,219.0 547.5,215.6 556.5,215.2 564.0,216.8 567.0,215.2 570.0,216.0 570.8,219.0 576.0,220.5 577.5,222.8 573.0,225.0 566.2,223.5 561.0,222.0 553.5,221.2 545.2,220.9 542.2,219.0 M573.8,216.8 577.5,214.5 585.0,214.1 589.0,216.0 585.0,219.8 579.0,219.8 573.8,216.8" fill="none" stroke="#1a1a1a" stroke-width="0.8" stroke-linejoin="round"/>
</g>
</svg>
<path d="M56.75 182.70v12M56.75 544.00v-12M76.85 182.70v6M76.85 544.00v-6M96.94 182.70v6M96.94 544.00v-6M117.04 182.70v12M117.04 544.00v-12M137.14 182.70v6M137.14 544.00v-6M157.24 182.70v6M157.24 544.00v-6M177.33 182.70v12M177.33 544.00v-12M197.43 182.70v6M197.43 544.00v-6M217.53 182.70v6M217.53 544.00v-6M237.62 182.70v12M237.62 544.00v-12M257.72 182.70v6M257.72 544.00v-6M277.82 182.70v6M277.82 544.00v-6M297.92 182.70v12M297.92 544.00v-12M318.01 182.70v6M318.01 544.00v-6M338.11 182.70v6M338.11 544.00v-6M358.21 182.70v12M358.21 544.00v-12M378.31 182.70v6M378.31 544.00v-6M398.40 182.70v6M398.40 544.00v-6M418.50 182.70v12M418.50 544.00v-12M438.60 182.70v6M438.60 544.00v-6M458.69 182.70v6M458.69 544.00v-6M478.79 182.70v12M478.79 544.00v-12M498.89 182.70v6M498.89 544.00v-6M518.99 182.70v6M518.99 544.00v-6M539.08 182.70v12M539.08 544.00v-12M559.18 182.70v6M559.18 544.00v-6M579.28 182.70v6M579.28 544.00v-6M599.38 182.70v12M599.38 544.00v-12M619.47 182.70v6M619.47 544.00v-6M639.57 182.70v6M639.57 544.00v-6M659.67 182.70v12M659.67 544.00v-12M679.76 182.70v6M679.76 544.00v-6M699.86 182.70v6M699.86 544.00v-6M719.96 182.70v12M719.96 544.00v-12M740.06 182.70v6M740.06 544.00v-6M760.15 182.70v6M760.15 544.00v-6M780.25 182.70v12M780.25 544.00v-12M56.75 544.00h12M780.25 544.00h-12M56.75 523.93h6M780.25 523.93h-6M56.75 503.86h6M780.25 503.86h-6M56.75 483.78h12M780.25 483.78h-12M56.75 463.71h6M780.25 463.71h-6M56.75 443.64h6M780.25 443.64h-6M56.75 423.57h12M780.25 423.57h-12M56.75 403.49h6M780.25 403.49h-6M56.75 383.42h6M780.25 383.42h-6M56.75 363.35h12M780.25 363.35h-12M56.75 343.28h6M780.25 343.28h-6M56.75 323.21h6M780.25 323.21h-6M56.75 303.13h12M780.25 303.13h-12M56.75 283.06h6M780.25 283.06h-6M56.75 262.99h6M780.25 262.99h-6M56.75 242.92h12M780.25 242.92h-12M56.75 222.84h6M780.25 222.84h-6M56.75 202.77h6M780.25 202.77h-6M56.75 182.70h12M780.25 182.70h-12" stroke="#000" stroke-width="1.15" fill="none"/>
<rect x="56.75" y="182.70" width="723.50" height="361.30" fill="none" stroke="#000" stroke-width="1.3"/>
<g font-size="16.6">
<text x="56.75" y="568.5" text-anchor="middle">0</text><text x="117.04" y="568.5" text-anchor="middle">30E</text><text x="177.33" y="568.5" text-anchor="middle">60E</text><text x="237.62" y="568.5" text-anchor="middle">90E</text><text x="297.92" y="568.5" text-anchor="middle">120E</text><text x="358.21" y="568.5" text-anchor="middle">150E</text><text x="418.50" y="568.5" text-anchor="middle">180</text><text x="478.79" y="568.5" text-anchor="middle">150W</text><text x="539.08" y="568.5" text-anchor="middle">120W</text><text x="599.38" y="568.5" text-anchor="middle">90W</text><text x="659.67" y="568.5" text-anchor="middle">60W</text><text x="719.96" y="568.5" text-anchor="middle">30W</text><text x="780.25" y="568.5" text-anchor="middle">0</text><text x="45" y="188.60" text-anchor="end">90N</text><text x="45" y="248.82" text-anchor="end">60N</text><text x="45" y="309.03" text-anchor="end">30N</text><text x="45" y="369.25" text-anchor="end">0</text><text x="45" y="429.47" text-anchor="end">30S</text><text x="45" y="489.68" text-anchor="end">60S</text><text x="45" y="549.90" text-anchor="end">90S</text>
</g>
<text x="418.5" y="600" font-size="12.7" text-anchor="middle">Copyright © CEMC, CMA</text>
<rect x="149.50" y="607.3" width="35.85" height="16.2" fill="#FF66AA"/><rect x="185.35" y="607.3" width="35.85" height="16.2" fill="#A02828"/><rect x="221.19" y="607.3" width="35.85" height="16.2" fill="#C80000"/><rect x="257.04" y="607.3" width="35.85" height="16.2" fill="#FF0000"/><rect x="292.89" y="607.3" width="35.85" height="16.2" fill="#FF7000"/><rect x="328.73" y="607.3" width="35.85" height="16.2" fill="#FFA500"/><rect x="364.58" y="607.3" width="35.85" height="16.2" fill="#FFDD33"/><rect x="400.43" y="607.3" width="35.85" height="16.2" fill="#FFFFFF"/><rect x="436.27" y="607.3" width="35.85" height="16.2" fill="#A0D2FF"/><rect x="472.12" y="607.3" width="35.85" height="16.2" fill="#00BFF5"/><rect x="507.97" y="607.3" width="35.85" height="16.2" fill="#1E90F0"/><rect x="543.81" y="607.3" width="35.85" height="16.2" fill="#4169E0"/><rect x="579.66" y="607.3" width="35.85" height="16.2" fill="#0000CD"/><rect x="615.51" y="607.3" width="35.85" height="16.2" fill="#00008B"/><rect x="651.35" y="607.3" width="35.85" height="16.2" fill="#8020E8"/>
<path d="M185.35 607.3v16.2M221.19 607.3v16.2M257.04 607.3v16.2M292.89 607.3v16.2M328.73 607.3v16.2M364.58 607.3v16.2M400.43 607.3v16.2M436.27 607.3v16.2M472.12 607.3v16.2M507.97 607.3v16.2M543.81 607.3v16.2M579.66 607.3v16.2M615.51 607.3v16.2M651.35 607.3v16.2" stroke="#222" stroke-width="0.9" fill="none"/>
<rect x="149.5" y="607.3" width="537.70" height="16.2" fill="none" stroke="#222" stroke-width="0.9"/>
<g font-size="16.4" text-anchor="middle">
<text x="185.35" y="640.5">-25</text><text x="221.19" y="640.5">-20</text><text x="257.04" y="640.5">-15</text><text x="292.89" y="640.5">-12</text><text x="328.73" y="640.5">-9</text><text x="364.58" y="640.5">-6</text><text x="400.43" y="640.5">-3</text><text x="436.27" y="640.5">3</text><text x="472.12" y="640.5">6</text><text x="507.97" y="640.5">9</text><text x="543.81" y="640.5">12</text><text x="579.66" y="640.5">15</text><text x="615.51" y="640.5">20</text><text x="651.35" y="640.5">25</text>
</g>
</svg>
</body></html>
